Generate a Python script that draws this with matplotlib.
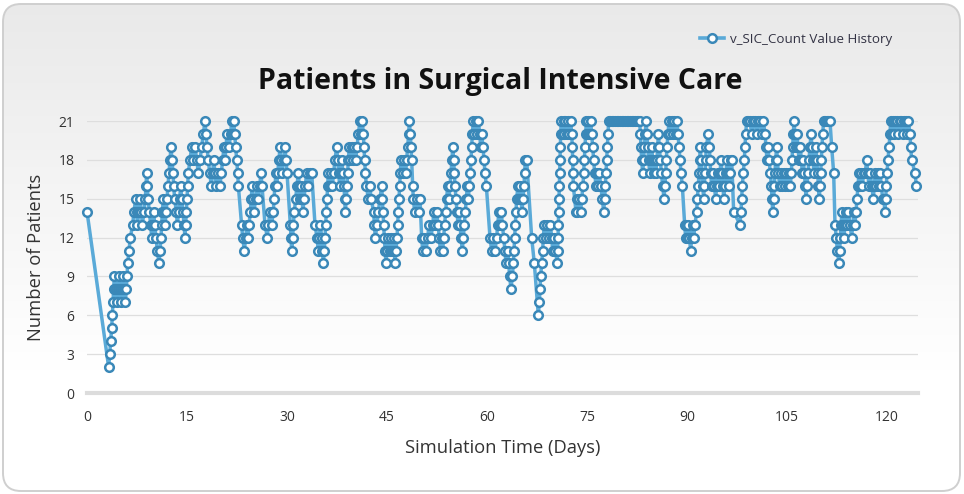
import matplotlib
matplotlib.use("Agg")
import matplotlib.pyplot as plt
import numpy as np
from matplotlib.patches import FancyBboxPatch
from matplotlib.lines import Line2D

# ---------------- data ----------------
days = [
    0.0, 3.25, 3.4, 3.55, 3.7, 3.8, 3.9, 4.0, 4.1, 4.3, 4.45, 4.6, 4.75, 4.95, 5.05, 5.2, 5.35, 5.55, 5.75, 5.9,
    6.0, 6.1, 6.3, 6.5, 6.85, 7.05, 7.3, 7.45, 7.55, 7.8, 7.95, 8.15, 8.3, 8.55, 8.75, 8.85, 8.95, 9.05, 9.15, 9.35,
    9.55, 9.7, 9.85, 10.0, 10.15, 10.35, 10.55, 10.8, 10.95, 11.1, 11.2, 11.3, 11.45, 11.6, 11.7, 11.9, 12.0, 12.15, 12.3, 12.45,
    12.6, 12.75, 12.9, 13.0, 13.15, 13.4, 13.55, 13.75, 13.9, 14.05, 14.2, 14.4, 14.55, 14.7, 14.8, 14.9, 15.0, 15.1, 15.2, 15.45,
    15.7, 15.95, 16.2, 16.45, 16.7, 16.95, 17.2, 17.45, 17.7, 17.85, 18.0, 18.2, 18.4, 18.65, 18.85, 19.0, 19.2, 19.4, 19.7, 19.95,
    20.15, 20.35, 20.55, 20.7, 20.85, 21.0, 21.3, 21.55, 21.7, 21.85, 22.0, 22.15, 22.3, 22.45, 22.6, 22.7, 23.2, 23.35, 23.6, 23.8,
    24.0, 24.15, 24.3, 24.5, 24.65, 24.75, 24.9, 25.05, 25.3, 25.5, 25.7, 25.9, 26.1, 26.25, 26.7, 27.05, 27.2, 27.45, 27.7, 27.95,
    28.05, 28.2, 28.35, 28.45, 28.6, 28.8, 28.95, 29.1, 29.25, 29.5, 29.7, 29.85, 30.0, 30.5, 30.6, 30.7, 30.85, 30.95, 31.1, 31.3,
    31.5, 31.7, 31.85, 31.95, 32.1, 32.25, 32.4, 32.55, 32.75, 32.95, 33.2, 33.45, 33.7, 34.2, 34.5, 34.7, 34.85, 35.0, 35.2, 35.3,
    35.45, 35.6, 35.7, 35.8, 35.9, 36.0, 36.1, 36.2, 36.45, 36.6, 36.8, 37.0, 37.2, 37.45, 37.6, 37.75, 37.9, 38.05, 38.2, 38.4,
    38.55, 38.65, 38.75, 38.9, 39.0, 39.1, 39.2, 39.35, 39.5, 39.7, 39.9, 40.1, 40.3, 40.5, 40.7, 40.95, 41.1, 41.3, 41.45, 41.55,
    41.65, 41.75, 41.9, 42.2, 42.45, 42.6, 43.0, 43.1, 43.25, 43.5, 43.7, 43.95, 44.2, 44.3, 44.4, 44.5, 44.6, 44.72, 44.85, 45.0,
    45.2, 45.4, 45.6, 45.8, 46.0, 46.1, 46.2, 46.35, 46.5, 46.6, 46.7, 46.8, 46.9, 47.0, 47.1, 47.4, 47.6, 47.8, 47.95, 48.1,
    48.25, 48.35, 48.5, 48.6, 48.7, 48.85, 48.95, 49.15, 49.5, 49.75, 49.95, 50.2, 50.35, 50.6, 50.85, 51.1, 51.3, 51.6, 51.85, 52.05,
    52.25, 52.45, 52.65, 52.85, 53.0, 53.2, 53.35, 53.5, 53.65, 53.8, 53.95, 54.1, 54.3, 54.45, 54.6, 54.75, 54.85, 55.0, 55.1, 55.2,
    55.35, 55.5, 55.65, 55.8, 55.95, 56.1, 56.3, 56.45, 56.6, 56.75, 56.9, 57.05, 57.2, 57.35, 57.5, 57.6, 57.7, 57.8, 57.95, 58.1,
    58.3, 58.5, 58.7, 58.9, 59.05, 59.2, 59.4, 59.55, 59.7, 59.9, 60.45, 60.7, 60.85, 61.2, 61.45, 61.6, 61.8, 62.0, 62.15, 62.3,
    62.5, 62.7, 62.85, 63.1, 63.25, 63.4, 63.6, 63.8, 63.95, 64.05, 64.15, 64.25, 64.35, 64.45, 64.65, 64.8, 64.95, 65.1, 65.25, 65.4,
    65.55, 65.65, 65.75, 65.95, 66.7, 67.1, 67.7, 67.85, 67.95, 68.05, 68.2, 68.35, 68.45, 68.6, 68.85, 69.05, 69.3, 69.5, 69.7, 69.85,
    70.05, 70.25, 70.55, 70.6, 70.65, 70.7, 70.75, 70.8, 70.85, 70.9, 70.95, 71.0, 71.05, 71.15, 71.35, 71.5, 71.6, 71.75, 71.95, 72.15,
    72.35, 72.55, 72.7, 72.8, 72.85, 72.9, 72.95, 73.35, 73.45, 73.55, 73.8, 74.05, 74.2, 74.4, 74.5, 74.6, 74.7, 74.8, 74.9, 75.1,
    75.2, 75.4, 75.55, 75.7, 75.85, 76.0, 76.15, 76.35, 76.5, 76.65, 76.85, 77.05, 77.3, 77.5, 77.65, 77.75, 77.85, 77.95, 78.05, 78.15,
    78.25, 78.45, 78.7, 78.95, 79.2, 79.45, 79.7, 79.95, 80.2, 80.45, 80.7, 80.95, 81.2, 81.45, 81.7, 81.95, 82.2, 82.45, 82.7, 82.9,
    83.0, 83.1, 83.2, 83.35, 83.5, 83.6, 83.75, 83.85, 84.0, 84.1, 84.25, 84.4, 84.55, 84.7, 84.85, 85.0, 85.15, 85.3, 85.5, 85.6,
    85.7, 85.85, 86.0, 86.15, 86.35, 86.55, 86.7, 86.8, 86.9, 87.0, 87.15, 87.3, 87.5, 87.7, 87.9, 88.1, 88.3, 88.5, 88.65, 88.8,
    88.95, 89.1, 89.3, 89.65, 89.8, 89.9, 90.05, 90.2, 90.35, 90.55, 90.7, 90.85, 91.0, 91.2, 91.45, 91.55, 91.7, 91.8, 91.9, 92.0,
    92.1, 92.2, 92.35, 92.5, 92.6, 92.7, 92.8, 92.9, 93.2, 93.35, 93.45, 93.55, 93.7, 93.95, 94.1, 94.3, 94.45, 94.6, 94.8, 94.95,
    95.1, 95.25, 95.4, 95.5, 95.7, 95.85, 96.0, 96.15, 96.3, 96.45, 96.6, 96.7, 97.0, 97.95, 98.1, 98.2, 98.3, 98.45, 98.6, 98.7,
    98.8, 98.95, 99.2, 99.45, 99.7, 99.95, 100.2, 100.45, 100.7, 100.95, 101.2, 101.45, 101.7, 101.85, 102.0, 102.15, 102.3, 102.5, 102.65, 102.75,
    102.85, 103.0, 103.1, 103.2, 103.3, 103.45, 103.55, 103.7, 103.9, 104.1, 104.3, 104.5, 104.7, 104.9, 105.1, 105.3, 105.5, 105.65, 105.75, 105.85,
    105.95, 106.05, 106.2, 106.35, 106.5, 106.65, 106.8, 107.0, 107.15, 107.3, 107.45, 107.6, 107.75, 107.85, 108.0, 108.15, 108.3, 108.45, 108.6, 108.75,
    108.9, 109.05, 109.2, 109.35, 109.45, 109.6, 109.7, 109.85, 109.95, 110.05, 110.15, 110.25, 110.35, 110.5, 110.75, 111.0, 111.2, 111.45, 111.7, 112.0,
    112.2, 112.4, 112.55, 112.8, 112.9, 113.0, 113.1, 113.25, 113.4, 113.55, 113.7, 113.85, 114.0, 114.2, 114.45, 114.7, 114.85, 115.05, 115.2, 115.35,
    115.5, 115.65, 115.8, 115.95, 116.1, 116.3, 116.5, 116.75, 116.95, 117.1, 117.3, 117.5, 117.7, 117.95, 118.1, 118.25, 118.4, 118.6, 118.8, 118.95,
    119.15, 119.35, 119.5, 119.7, 119.8, 119.9, 120.0, 120.15, 120.3, 120.45, 120.55, 120.7, 120.85, 121.0, 121.2, 121.45, 121.7, 121.9, 122.15, 122.35,
    122.55, 122.8, 123.0, 123.2, 123.45, 123.55, 123.7, 124.2, 124.4,
]

patients = [
    14, 2, 3, 4, 5, 6, 7, 8, 9, 8, 7, 8, 9, 8, 7, 8, 9, 8, 7, 8,
    9, 10, 11, 12, 13, 14, 15, 14, 13, 14, 15, 14, 13, 14, 15, 16, 17, 16, 15, 14,
    13, 12, 13, 14, 13, 12, 11, 10, 11, 12, 13, 14, 15, 14, 13, 14, 15, 16, 17, 18,
    19, 18, 17, 16, 15, 14, 13, 14, 15, 16, 15, 14, 13, 12, 13, 14, 15, 16, 17, 18,
    19, 18, 19, 18, 17, 18, 19, 20, 21, 20, 19, 18, 17, 16, 17, 18, 17, 16, 17, 16,
    17, 18, 19, 18, 19, 20, 19, 20, 21, 20, 21, 20, 19, 18, 17, 16, 13, 12, 11, 12,
    13, 12, 13, 14, 15, 16, 15, 14, 15, 16, 15, 16, 17, 16, 13, 12, 13, 14, 13, 14,
    15, 16, 17, 16, 17, 18, 19, 18, 17, 18, 19, 18, 17, 13, 12, 11, 12, 13, 14, 15,
    16, 17, 16, 15, 16, 15, 14, 15, 16, 17, 16, 17, 17, 13, 12, 11, 12, 13, 12, 11,
    10, 11, 12, 13, 14, 15, 16, 17, 16, 17, 16, 17, 18, 19, 18, 17, 16, 17, 18, 17,
    16, 15, 14, 15, 16, 17, 18, 19, 18, 19, 18, 19, 18, 19, 20, 21, 20, 21, 20, 19,
    18, 17, 16, 15, 16, 15, 14, 13, 12, 13, 14, 15, 16, 15, 14, 13, 12, 11, 10, 11,
    12, 11, 12, 11, 12, 11, 10, 11, 12, 13, 14, 15, 16, 17, 18, 17, 18, 17, 18, 19,
    20, 21, 20, 19, 18, 16, 15, 14, 15, 14, 15, 12, 11, 12, 11, 12, 13, 12, 13, 14,
    13, 14, 13, 12, 11, 12, 11, 12, 13, 14, 15, 16, 15, 16, 17, 18, 19, 18, 17, 16,
    15, 14, 13, 14, 13, 12, 11, 12, 13, 14, 15, 16, 15, 16, 17, 18, 19, 20, 21, 20,
    21, 20, 21, 20, 19, 20, 19, 18, 17, 16, 12, 11, 12, 11, 12, 13, 14, 13, 14, 13,
    12, 11, 10, 11, 10, 9, 8, 9, 10, 11, 12, 13, 14, 15, 16, 15, 16, 15, 14, 15,
    16, 17, 18, 18, 12, 10, 6, 7, 8, 9, 10, 11, 12, 13, 12, 13, 12, 13, 12, 11,
    12, 11, 10, 11, 12, 13, 14, 15, 16, 17, 18, 19, 20, 21, 20, 21, 20, 21, 20, 21,
    20, 21, 20, 19, 18, 17, 16, 14, 15, 14, 15, 14, 15, 16, 17, 18, 19, 20, 21, 20,
    21, 20, 21, 20, 19, 18, 17, 16, 17, 16, 17, 16, 15, 14, 15, 16, 17, 18, 19, 20,
    21, 21, 21, 21, 21, 21, 21, 21, 21, 21, 21, 21, 21, 21, 21, 21, 21, 21, 21, 21,
    20, 19, 18, 17, 18, 19, 20, 21, 20, 19, 18, 17, 18, 19, 18, 17, 18, 17, 18, 19,
    20, 19, 18, 17, 16, 15, 16, 17, 18, 19, 20, 21, 20, 21, 20, 21, 20, 21, 20, 19,
    18, 17, 16, 13, 12, 13, 12, 13, 12, 11, 12, 13, 12, 13, 14, 15, 16, 17, 18, 19,
    18, 17, 16, 15, 16, 17, 18, 19, 20, 19, 18, 17, 16, 17, 16, 15, 16, 17, 16, 17,
    18, 17, 16, 15, 16, 17, 18, 17, 16, 17, 18, 18, 14, 13, 14, 15, 16, 17, 18, 19,
    20, 21, 21, 21, 20, 21, 21, 20, 21, 21, 20, 21, 20, 19, 18, 19, 18, 17, 16, 15,
    14, 15, 16, 17, 18, 19, 18, 17, 16, 17, 16, 17, 16, 17, 16, 17, 16, 17, 18, 19,
    20, 21, 20, 19, 20, 19, 18, 19, 18, 17, 18, 17, 16, 15, 16, 17, 18, 19, 20, 19,
    18, 17, 18, 19, 18, 17, 16, 15, 16, 17, 18, 19, 20, 21, 21, 21, 21, 21, 19, 17,
    13, 12, 11, 10, 11, 12, 13, 14, 13, 12, 13, 14, 13, 14, 13, 12, 13, 14, 13, 14,
    15, 16, 17, 16, 17, 16, 17, 17, 18, 17, 16, 17, 16, 15, 16, 17, 16, 17, 16, 17,
    16, 15, 15, 14, 15, 16, 17, 18, 19, 20, 21, 20, 21, 20, 21, 21, 20, 21, 21, 20,
    21, 21, 20, 21, 20, 19, 18, 17, 16,
]

y_ticks = [0, 3, 6, 9, 12, 15, 18, 21]
x_ticks = [0, 15, 30, 45, 60, 75, 90, 105, 120]
title = "Patients in Surgical Intensive Care"
x_label = "Simulation Time (Days)"
y_label = "Number of Patients"
legend_label = "v_SIC_Count Value History"

n = min(len(days), len(patients))
days = days[:n]
patients = patients[:n]

# ---------------- figure ----------------
W, H = 964, 494
fig = plt.figure(figsize=(W / 100, H / 100), dpi=100)
fig.patch.set_facecolor("white")

# background panel with gradient and rounded border
bg = fig.add_axes([0, 0, 1, 1], zorder=-5)
bg.set_xlim(0, W)
bg.set_ylim(0, H)
bg.axis("off")
grad = np.linspace(0, 1, 256)
grad = np.clip(grad / 0.75, 0, 1)
top_c = np.array([0.915, 0.915, 0.915])
bot_c = np.array([1.0, 1.0, 1.0])
img = top_c[None, :] * (1 - grad[:, None]) + bot_c[None, :] * grad[:, None]
img = np.repeat(img[:, None, :], 4, axis=1)
panel = FancyBboxPatch((3, 3), W - 7, H - 7, boxstyle="round,pad=0,rounding_size=18",
                       facecolor="none", edgecolor="#cfcfcf", linewidth=1.4, zorder=3)
im = bg.imshow(img, extent=[3, W - 4, 3, H - 4], origin="upper", aspect="auto", zorder=1)
clip = FancyBboxPatch((3, 3), W - 7, H - 7, boxstyle="round,pad=0,rounding_size=18",
                      transform=bg.transData, facecolor="none", edgecolor="none")
bg.add_patch(clip)
im.set_clip_path(clip)
bg.add_patch(panel)

# plot axes: x=0 at px 87, x-end at px 918; y=0 at px 393, y=21 at px 121
left = 87 / W
right = 918 / W
bottom = (H - 393) / H
top = (H - 121) / H
ax = fig.add_axes([left, bottom, right - left, top - bottom])
ax.set_facecolor("none")
ax.set_xlim(0, 124.65)
ax.set_ylim(0, 21)
for s in ax.spines.values():
    s.set_visible(False)

font = "Open Sans"
ax.set_yticks(y_ticks)
ax.set_xticks(x_ticks)
ax.set_yticklabels([str(v) for v in y_ticks], fontsize=10, color="#333333", family=font)
ax.set_xticklabels([str(v) for v in x_ticks], fontsize=10, color="#333333", family=font)
ax.tick_params(axis="both", length=0)
ax.tick_params(axis="y", pad=9)
ax.tick_params(axis="x", pad=12)

for v in y_ticks:
    if v == 0:
        ax.axhline(v, color="#dcdcdc", lw=3.0, zorder=1, clip_on=False)
    else:
        ax.axhline(v, color="#dedede", lw=0.9, zorder=1)

line_c = "#5aaad8"
mark_c = "#3a88b8"
ax.plot(days, patients, color=line_c, lw=2.5, zorder=3, clip_on=False, solid_joinstyle="round")
ax.plot(days, patients, linestyle="none", marker="o", ms=6.2, mfc="white", mec=mark_c,
        mew=1.8, zorder=4, clip_on=False)

ax.set_xlabel(x_label, fontsize=13.2, color="#333333", family=font, labelpad=10)
ax.set_ylabel(y_label, fontsize=13.2, color="#333333", family=font, labelpad=10)

fig.text(0.5185, (H - 81) / H, title, ha="center", va="center", fontsize=20.5,
         fontweight="bold", color="#111111", family=font)

handle = Line2D([], [], color=line_c, lw=2.6, marker="o", ms=6.2, mfc="white", mec=mark_c, mew=1.8)
leg = fig.legend([handle], [legend_label], loc="center right", bbox_to_anchor=(904 / W, (H - 39) / H),
                 frameon=False, handlelength=1.8, handletextpad=0.4,
                 prop={"family": font, "size": 9.6})
for t in leg.get_texts():
    t.set_color("#333344")

fig.savefig("out.png", dpi=100)
